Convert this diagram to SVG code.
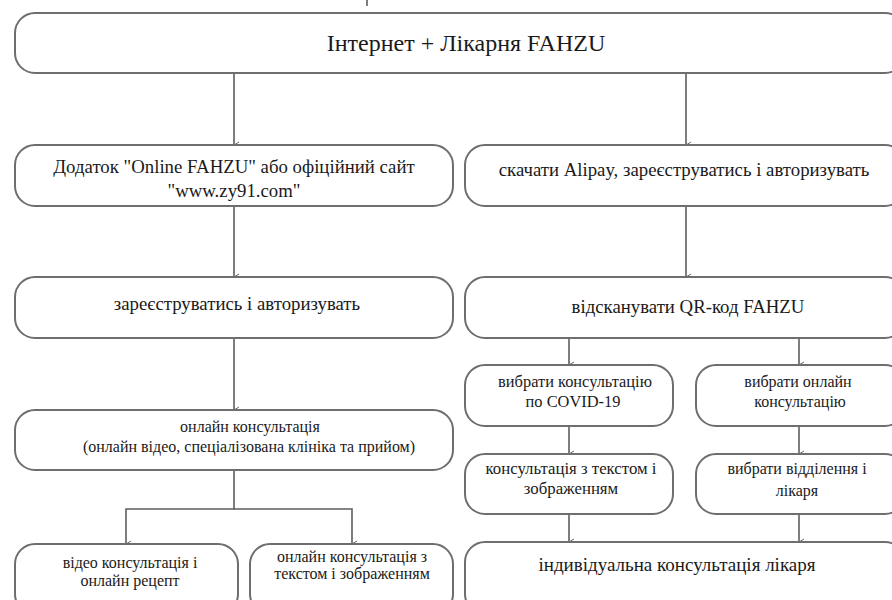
<svg xmlns="http://www.w3.org/2000/svg" width="892" height="600" viewBox="0 0 892 600">
<defs>
<marker id="arr" markerWidth="8" markerHeight="8" refX="4" refY="6" orient="auto" markerUnits="userSpaceOnUse">
<path d="M1,1 L4,6 L7,1" fill="none" stroke="#666" stroke-width="1"/>
</marker>
<style>
.box{fill:#fff;stroke:#6e6e6e;stroke-width:2}
.c{fill:none;stroke:#5e5e5e;stroke-width:1.6}
text{fill:#1a1a1a;text-anchor:middle}
.t20{font-size:24px}
.t17{font-size:18.8px}
.t16{font-size:18.8px}
.t15{font-size:16px}
.t19{font-size:19px}
</style>
</defs>
<rect width="892" height="600" fill="#fff"/>
<g id="connectors">
<line class="c" x1="367" y1="0" x2="367" y2="6"/>
<line class="c" x1="234" y1="73" x2="234" y2="145" marker-end="url(#arr)"/>
<line class="c" x1="686" y1="73" x2="686" y2="145" marker-end="url(#arr)"/>
<line class="c" x1="234" y1="206" x2="234" y2="277" marker-end="url(#arr)"/>
<line class="c" x1="686" y1="206" x2="686" y2="277" marker-end="url(#arr)"/>
<line class="c" x1="234" y1="338" x2="234" y2="410" marker-end="url(#arr)"/>
<polyline class="c" points="234,470 234,509 126,509 126,544" marker-end="url(#arr)"/>
<polyline class="c" points="234,509 352,509 352,544" marker-end="url(#arr)"/>
<line class="c" x1="569" y1="338" x2="569" y2="365" marker-end="url(#arr)"/>
<line class="c" x1="799" y1="338" x2="799" y2="365" marker-end="url(#arr)"/>
<line class="c" x1="569" y1="426" x2="569" y2="454" marker-end="url(#arr)"/>
<line class="c" x1="799" y1="426" x2="799" y2="454" marker-end="url(#arr)"/>
<line class="c" x1="569" y1="514" x2="569" y2="542" marker-end="url(#arr)"/>
<line class="c" x1="799" y1="514" x2="799" y2="542" marker-end="url(#arr)"/>
</g>
<g font-family="'Liberation Serif', 'DejaVu Serif', 'Times New Roman', serif">
<g id="n-top">
<rect class="box" x="15" y="13" width="890" height="60" rx="20"/>
<text class="t20" x="466" y="51">Інтернет + Лікарня FAHZU</text>
</g>
<g id="n-app">
<rect class="box" x="15" y="145" width="438" height="61" rx="20"/>
<text class="t17" x="234" y="173">Додаток "Online FAHZU" або офіційний сайт</text>
<text class="t17" x="234" y="197">"www.zy91.com"</text>
</g>
<g id="n-alipay">
<rect class="box" x="465" y="145" width="440" height="61" rx="20"/>
<text class="t17" x="684" y="176">скачати Alipay, зареєструватись і авторизувать</text>
</g>
<g id="n-reg">
<rect class="box" x="15" y="277" width="438" height="61" rx="20"/>
<text class="t16" x="237" y="310">зареєструватись і авторизувать</text>
</g>
<g id="n-qr">
<rect class="box" x="465" y="277" width="440" height="61" rx="20"/>
<text class="t17" x="688" y="313">відсканувати QR-код FAHZU</text>
</g>
<g id="n-online">
<rect class="box" x="15" y="410" width="438" height="60" rx="20"/>
<text class="t15" x="250" y="432">онлайн консультація</text>
<text class="t15" x="249" y="452">(онлайн відео, спеціалізована клініка та прийом)</text>
</g>
<g id="n-video">
<rect class="box" x="15" y="544" width="223" height="70" rx="20"/>
<text class="t15" x="130" y="568">відео консультація і</text>
<text class="t15" x="130" y="586">онлайн рецепт</text>
</g>
<g id="n-text">
<rect class="box" x="250" y="544" width="203" height="70" rx="20"/>
<text class="t15" x="352" y="562">онлайн консультація з</text>
<text class="t15" x="352" y="579">текстом і зображенням</text>
</g>
<g id="n-covid">
<rect class="box" x="465" y="365" width="208" height="61" rx="20"/>
<text class="t15" x="575" y="387" style="font-size:16.4px">вибрати консультацію</text>
<text class="t15" x="573" y="407" style="font-size:16.4px">по COVID-19</text>
</g>
<g id="n-choose-online">
<rect class="box" x="696" y="365" width="209" height="61" rx="20"/>
<text class="t15" x="798" y="387">вибрати онлайн</text>
<text class="t15" x="800" y="407">консультацію</text>
</g>
<g id="n-text-img">
<rect class="box" x="465" y="454" width="208" height="60" rx="20"/>
<text class="t15" x="571" y="474" style="font-size:16.8px">консультація з текстом і</text>
<text class="t15" x="571" y="494" style="font-size:16.8px">зображенням</text>
</g>
<g id="n-dept">
<rect class="box" x="696" y="454" width="209" height="60" rx="20"/>
<text class="t15" x="797" y="474">вибрати відділення і</text>
<text class="t15" x="797" y="496">лікаря</text>
</g>
<g id="n-indiv">
<rect class="box" x="465" y="542" width="440" height="72" rx="20"/>
<text class="t19" x="677" y="571">індивідуальна консультація лікаря</text>
</g>
</g>
</svg>
